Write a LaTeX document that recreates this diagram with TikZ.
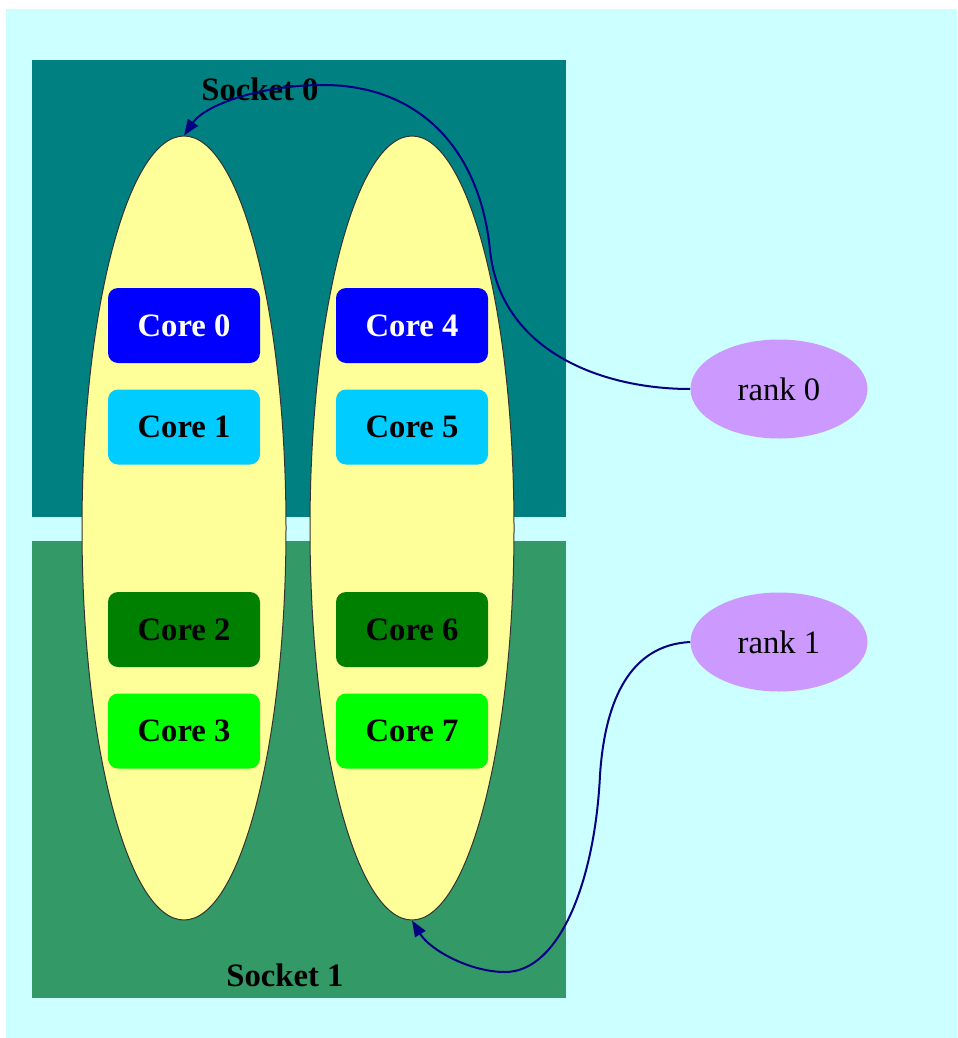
\documentclass[tikz,border=0pt]{standalone}
\usepackage{fontspec}
\setmainfont{Liberation Serif}
\usetikzlibrary{shapes.geometric,arrows.meta}
\definecolor{bgcyan}{HTML}{CCFFFF}
\definecolor{sockA}{HTML}{008080}
\definecolor{sockB}{HTML}{339966}
\definecolor{numafill}{HTML}{FFFF99}
\definecolor{coreblue}{HTML}{0000FF}
\definecolor{corecyan}{HTML}{00CCFF}
\definecolor{coregreen}{HTML}{008000}
\definecolor{corelime}{HTML}{00FF00}
\definecolor{rankfill}{HTML}{CC99FF}
\definecolor{edgenavy}{HTML}{000080}
\tikzset{
  numa/.style={ellipse, draw=black!80, line width=0.75pt, fill=numafill, minimum width=153pt, minimum height=588pt, inner sep=0pt},
  corebox/.style={rectangle, rounded corners=7.5pt, minimum width=114pt, minimum height=56.25pt, inner sep=0pt, font=\fontsize{24.5}{26}\selectfont\bfseries},
  rankell/.style={ellipse, fill=rankfill, minimum width=132.75pt, minimum height=74.25pt, inner sep=0pt, font=\fontsize{24.5}{26}\selectfont},
  socklabel/.style={font=\fontsize{24.5}{26}\selectfont\bfseries, inner sep=0pt},
  link/.style={draw=edgenavy, line width=1.5pt, -{Triangle[length=12pt,width=9pt]}}
}
\begin{document}
\begin{tikzpicture}[x=0.75pt,y=-0.75pt]
\useasboundingbox (0,0) rectangle (957,1038);
\fill[bgcyan] (6,9) rectangle (957,1038);
\fill[sockA] (32,60) rectangle (566,517);
\fill[sockB] (32,541) rectangle (566,998);
\node[socklabel] (s0) at (260,89) {Socket 0};
\node[socklabel] (s1) at (285,975) {Socket 1};
\node[numa] (n0) at (184,528) {};
\node[numa] (n1) at (412,528) {};
\node[corebox, fill=coreblue, text=white] (c0) at (184,325.5) {Core 0};
\node[corebox, fill=corecyan] (c1) at (184,427) {Core 1};
\node[corebox, fill=coregreen] (c2) at (184,629.5) {Core 2};
\node[corebox, fill=corelime] (c3) at (184,731) {Core 3};
\node[corebox, fill=coreblue, text=white] (c4) at (412,325.5) {Core 4};
\node[corebox, fill=corecyan] (c5) at (412,427) {Core 5};
\node[corebox, fill=coregreen] (c6) at (412,629.5) {Core 6};
\node[corebox, fill=corelime] (c7) at (412,731) {Core 7};
\node[rankell] (r0) at (779,389) {rank 0};
\node[rankell] (r1) at (779,642) {rank 1};
\draw[link] (r0.west) .. controls (600,389) and (500,350) .. (490,250)
  .. controls (480,150) and (420,85) .. (323,85)
  .. controls (260,85) and (205,105) .. (n0.north);
\draw[link] (r1.west) .. controls (630,645) and (605,700) .. (600,775)
  .. controls (595,880) and (560,972) .. (505,972)
  .. controls (470,972) and (430,950) .. (n1.south);
\end{tikzpicture}
\end{document}
